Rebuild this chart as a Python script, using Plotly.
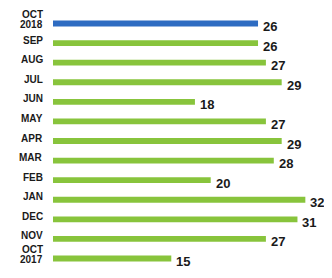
import plotly.graph_objects as go

months = ["OCT 2018", "SEP", "AUG", "JUL", "JUN", "MAY", "APR", "MAR", "FEB", "JAN", "DEC", "NOV", "OCT 2017"]
values = [26, 26, 27, 29, 18, 27, 29, 28, 20, 32, 31, 27, 15]
colors = ["#2e6cc2"] + ["#88c43c"] * 12

fig = go.Figure(go.Bar(
    y=months, x=values, orientation="h",
    marker=dict(color=colors, line=dict(width=0)),
    width=0.3,
))

lab_font = dict(family="Liberation Sans", size=10, color="#1a1a1a")
for m, v in zip(months, values):
    parts = m.split(" ")
    if len(parts) == 1:
        fig.add_annotation(x=0, y=m, xref="paper", yref="y", text="<b>%s</b>" % m,
                           showarrow=False, xanchor="right", xshift=-8, yshift=3,
                           font=lab_font)
    else:
        fig.add_annotation(x=0, y=m, xref="paper", yref="y", text="<b>%s</b>" % parts[0],
                           showarrow=False, xanchor="right", xshift=-8, yshift=9,
                           font=lab_font)
        fig.add_annotation(x=0, y=m, xref="paper", yref="y", text="<b>%s</b>" % parts[1],
                           showarrow=False, xanchor="right", xshift=-8, yshift=-1,
                           font=lab_font)
    fig.add_annotation(x=v, y=m, xref="x", yref="y", text="<b>%d</b>" % v,
                       showarrow=False, xanchor="left", xshift=3, yshift=-3,
                       font=dict(family="Liberation Sans", size=13, color="#1a1a1a"))

fig.update_layout(
    width=324, height=270,
    margin=dict(l=45, r=3, t=3, b=3),
    paper_bgcolor="white", plot_bgcolor="white",
    showlegend=False,
    xaxis=dict(range=[0, 35], visible=False),
    yaxis=dict(categoryorder="array", categoryarray=months, autorange="reversed",
               showticklabels=False, showgrid=False, zeroline=False),
)
fig.write_html("out.html")
